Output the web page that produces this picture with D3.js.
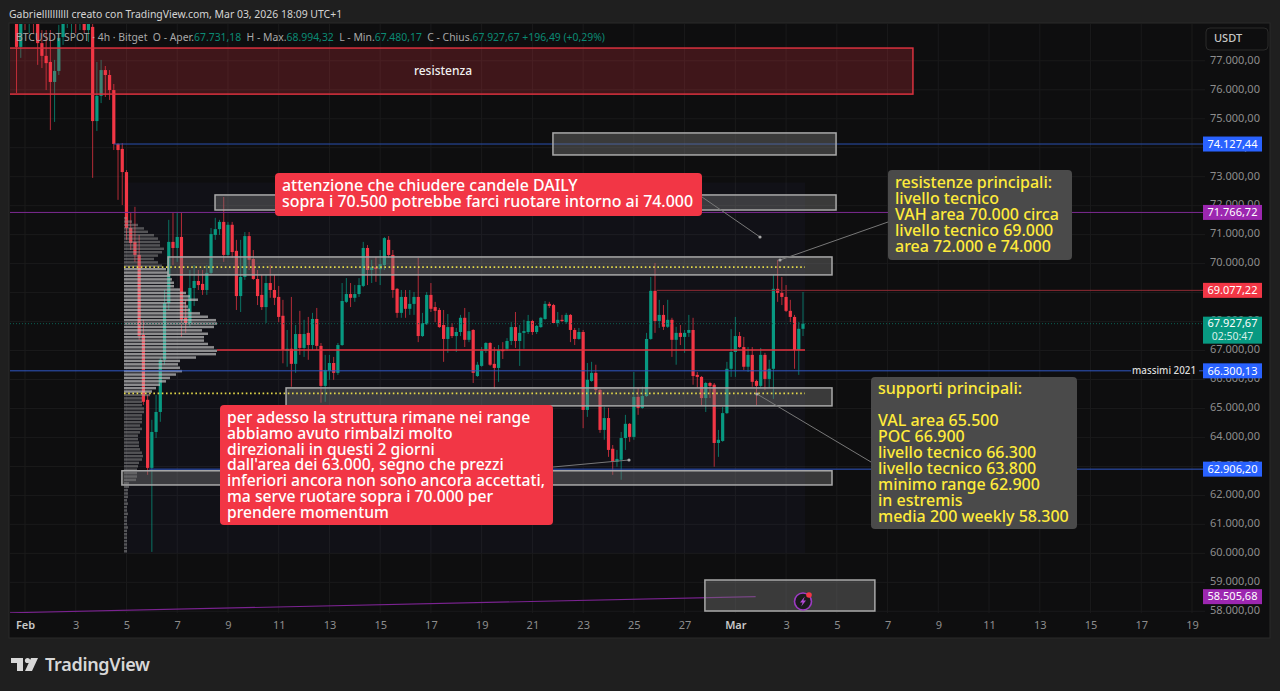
<!DOCTYPE html>
<html><head><meta charset="utf-8">
<script src="https://cdn.jsdelivr.net/npm/d3@7/dist/d3.min.js"></script>
<style>html,body{margin:0;padding:0;background:#1f1f1f;overflow:hidden}svg{display:block}text{font-family:"Noto Sans",sans-serif}</style>
</head><body><svg id="c" width="1280" height="691"></svg>
<script>
// ---------- data (USDT, 4h candles from 31 Jan 16:00) ----------
const opens=[78410,77480,78750,78480,78750,78410,77610,77170,76960,76270,
76650,77820,78480,78610,78750,78480,78580,78060,78170,74920,
75790,76680,76510,75990,74130,73960,73160,71230,70750,70300,
67540,65300,62950,64190,64880,66680,68640,70750,70540,70920,
68130,67950,69160,69400,69300,69090,69680,70990,71190,71440,
70300,71340,70440,68880,69540,70950,70160,69470,68920,68500,
69330,69090,68850,68200,66990,67060,66540,67570,67090,67610,
67190,68090,67160,65780,66300,66570,66230,67190,68680,68950,
68820,68950,69230,70540,69780,69880,69810,69950,70820,70300,
69130,68300,68850,68440,68610,68850,67500,67910,68920,68500,
68400,67880,67400,67810,67500,67640,68130,67370,67710,66120,
66470,66990,67260,66540,66400,67020,67060,67330,67810,67330,
67610,67640,68020,67640,67810,68090,68610,68570,67950,68060,
67980,68230,67710,67400,67640,64950,65950,66230,65640,64260,
64670,63610,63160,63230,63980,64470,64020,65400,65020,65430,
67400,69060,68020,68230,67820,68060,67370,67610,67470,67610,
67710,66160,66090,65360,65880,65820,63810,63880,64840,66370,
66950,67500,67120,66440,66850,65950,65780,66850,66020,66370,
69130,68990,68850,68370,68160,67020,67750];
const highs=[78580,78480,78930,78930,78930,78750,78060,78060,78060,77030,
78240,78580,78820,78930,78930,78820,78750,78580,78270,76960,
77030,76820,76680,76200,74160,74160,73230,71750,71960,70990,
68060,65470,64610,65470,66750,69090,71510,71750,71750,71750,
68750,69780,69950,69780,69780,69950,71230,71580,71510,72300,
71440,71440,70820,70820,71090,71090,70470,69780,69610,69610,
69950,69610,69230,68750,67710,68850,67880,68370,68060,68160,
68300,68470,67260,66850,66850,66780,67260,69330,69500,69330,
69260,69500,70750,70640,70130,70230,70470,70920,70950,70470,
69160,69090,69090,69090,69020,70200,68300,69020,69330,68680,
68470,68400,68260,67950,67780,68230,68470,68330,67740,66610,
67120,67290,67290,67120,67190,67290,67430,67980,68330,67880,
68060,68230,68060,67880,68160,68710,68680,68610,68330,68230,
68300,68260,67780,67780,67710,66570,66610,66510,65680,65050,
65020,63740,63570,64190,64780,64500,66260,65710,65750,67610,
69540,70020,68750,68570,68750,68130,67820,67880,67710,68230,
68130,66260,66120,65920,65920,65880,64260,65050,66610,67740,
68160,67640,67470,67120,67120,65990,67090,66920,66680,69610,
70130,69540,69260,68750,68230,67980,69020];
const lows=[75890,77100,78060,77960,77930,76860,76750,75990,74610,74890,
76510,77550,78130,77960,77960,78060,77960,77650,72960,74580,
75540,75750,75650,73920,72200,72020,70820,70470,70060,67370,
65120,62710,60050,63980,64540,66510,68400,69950,70060,67470,
67610,67820,68540,69090,68920,68920,69610,70820,70990,70060,
70200,70200,68400,68330,69440,69780,69440,68570,68400,67950,
68820,68570,67980,66560,66440,65750,66230,66850,66780,66680,
67020,67020,65200,65230,65990,65990,66160,67160,68640,68500,
68680,68850,69190,69260,69330,69370,69260,69780,70200,68820,
68130,68130,68130,68230,68230,67290,67470,67880,68330,67980,
67780,66610,66920,67430,66950,67500,67120,67290,65880,66090,
66440,66920,66470,65680,65920,66710,66990,67190,67090,66470,
67060,67570,67540,67570,67780,68060,68470,67950,67820,67980,
67920,67290,67190,67370,64320,64710,65920,65540,64160,63920,
63330,62710,62990,62540,63570,63850,63920,64780,64990,65400,
67370,67610,67780,67710,67780,66780,66510,67190,66920,67470,
65820,65710,65120,64880,65360,62990,63330,63850,64810,66090,
66090,67090,66330,66260,65750,65120,65710,65640,65710,65330,
68680,68570,68330,67980,66370,66160,67500];
const closes=[77480,78340,78480,78750,78410,77610,77170,76920,76270,76650,
77790,78270,78680,78750,78480,78680,78060,78340,74920,75790,
76680,76510,75990,74130,73920,73160,71230,70710,70300,67510,
65230,62950,64190,64880,66680,68640,70750,70540,70920,68060,
67950,69160,69400,69260,69090,69680,71020,71190,71440,70300,
71340,70400,68880,69540,70950,70130,69470,68880,68500,69330,
69090,68820,68160,67020,67060,66540,67570,67090,67570,67190,
68090,67160,65780,66330,66570,66230,67190,68710,68950,68820,
68950,69260,70540,69780,69880,69810,69980,70880,70300,69090,
68300,68850,68440,68610,68850,67500,67950,68920,68440,68370,
67810,67400,67810,67500,67640,68130,67370,67670,66230,66510,
66990,67260,66510,66400,67020,66990,67330,67810,67330,67610,
67670,68020,67640,67850,68130,68610,68540,67950,68060,68020,
68230,67710,67400,67640,64950,65990,66230,65640,64260,64670,
63570,63160,63260,63980,64470,64020,65400,65020,65430,67400,
69060,68020,68230,67820,68060,67370,67610,67470,67610,67710,
66120,66090,65360,65880,65780,63810,63920,64840,66370,66950,
67500,67120,66440,66850,65920,65780,66850,66020,66370,69130,
68990,68850,68370,68160,67020,67750,67930];

const priceTicks=[77000,76000,75000,74000,73000,72000,71000,70000,69000,68000,67000,66000,65000,64000,63000,62000,61000,60000,59000,58000];
const timeTickDays=[0,2,4,6,8,10,12,14,16,18,20,22,24,26,28,30,32,34,36,38,40,42,44,46];
const timeTickLabels=["Feb","3","5","7","9","11","13","15","17","19","21","23","25","27","Mar","3","5","7","9","11","13","15","17","19"];

// visible-range volume profile, top row to bottom row
const profileTopPrice=71610, profileStep=117.3;
const profileVolumes=[3,8,14,20,24,30,34,36,36,40,38,34,30,34,38,42,44,46,48,50,50,56,62,66,74,62,64,66,76,84,92,93,90,78,84,80,80,84,90,93,92,72,56,54,56,58,52,46,42,36,32,28,26,18,18,18,20,20,18,18,18,16,18,16,14,14,15,15,16,18,19,18,15,14,13,13,13,12,5,5,4,4,4,3,4,3,3,4,3,3,3,4,3,3,3,3,3,3,3];
const vahPrice=69880, valPrice=65520, pocPrice=67020;

const levelPrices={blueHigh:74127.44,purple:71766.72,red:69077.22,last:67927.67,massimi:66300.13,blueLow:62906.20,purpleLow:58505.68};
const greyZonePrices=[[74510,73750],[72370,71850],[70230,69610],[65710,65090],[62850,62360],[59080,58010]];
const greyZoneDays=[[20.81,31.97],[7.49,31.97],[5.64,31.81],[10.29,31.81],[3.82,31.81],[26.80,33.50]];
const redZonePrices=[77440,75850], redZoneDays=[-0.7,35.0];

const redNote1=["attenzione che chiudere candele DAILY","sopra i 70.500 potrebbe farci ruotare intorno ai 74.000"];
const redNote2=["per adesso la struttura rimane nei range","abbiamo avuto rimbalzi molto","direzionali in questi 2 giorni","dall'area dei 63.000, segno che prezzi","inferiori ancora non sono ancora accettati,","ma serve ruotare sopra i 70.000 per","prendere momentum"];
const greyNote1=["resistenze principali:","livello tecnico","VAH area 70.000 circa","livello tecnico 69.000","area 72.000 e 74.000"];
const greyNote2=["supporti principali:","","VAL area 65.500","POC 66.900","livello tecnico 66.300","livello tecnico 63.800","minimo range 62.900","in estremis","media 200 weekly 58.300"];

// ---------- scales ----------
const DAY=864e5, t0=Date.UTC(2026,1,1);
const dayDate=d=>new Date(t0+d*DAY);
const pane={l:10,r:1205,t:24,b:613};
const x=d3.scaleUtc().domain([dayDate(0),dayDate(46)]).range([25,1192]);
const y=d3.scaleLinear().domain([58000,77000]).range([611.3,60.8]);
const volX=d3.scaleLinear().domain([0,93]).range([124,217]);
const loc=d3.formatLocale({decimal:",",thousands:".",grouping:[3],currency:["",""]});
const fmt=loc.format(",.2f");
const UP="#089981",DOWN="#f23645";
const svg=d3.select("#c");
const defs=svg.append("defs");
defs.append("clipPath").attr("id","pc").append("rect").attr("x",pane.l).attr("y",pane.t).attr("width",pane.r-pane.l).attr("height",pane.b-pane.t);

// frame
svg.append("rect").attr("width",1280).attr("height",691).attr("fill","#1f1f1f");
svg.append("rect").attr("x",9).attr("y",23).attr("width",1261).attr("height",615).attr("fill","#0e0e0f").attr("stroke","#2a2a2a");
svg.append("text").attr("x",9).attr("y",18).attr("font-size",10.45).attr("fill","#d4d4d4").text("Gabriellllllllll creato con TradingView.com, Mar 03, 2026 18:09 UTC+1");

// axes + grid
const gGrid=svg.append("g").attr("clip-path","url(#pc)");
gGrid.selectAll(".h").data(priceTicks).join("line").attr("x1",pane.l).attr("x2",pane.r).attr("y1",d=>y(d)).attr("y2",d=>y(d)).attr("stroke","#1a1a1b");
gGrid.selectAll(".v").data(timeTickDays).join("line").attr("y1",pane.t).attr("y2",pane.b).attr("x1",d=>x(dayDate(d))).attr("x2",d=>x(dayDate(d))).attr("stroke","#1a1a1b");

const yAxis=d3.axisRight(y).tickValues(priceTicks).tickSize(0).tickFormat(d=>fmt(d));
const gy=svg.append("g").attr("transform","translate(1210,-1.2)").call(yAxis);
gy.select(".domain").remove();
gy.selectAll("text").attr("x",0).attr("text-anchor","start").attr("font-size",11).attr("fill","#8d8d8d").attr("font-family",'"Noto Sans",sans-serif');

const xAxis=d3.axisBottom(x).tickValues(timeTickDays.map(dayDate)).tickSize(0).tickFormat((d,i)=>timeTickLabels[i]);
const gx=svg.append("g").attr("transform","translate(0,618)").call(xAxis);
gx.select(".domain").remove();
gx.selectAll("text").attr("font-size",11).attr("font-family",'"Noto Sans",sans-serif').attr("fill",(d,i)=>(timeTickLabels[i]==="Feb"||timeTickLabels[i]==="Mar")?"#c8c8c8":"#8d8d8d").attr("font-weight",(d,i)=>(timeTickLabels[i]==="Feb"||timeTickLabels[i]==="Mar")?600:400);

const plot=svg.append("g").attr("clip-path","url(#pc)");
// profile backdrop range
plot.append("rect").attr("x",volX(0)).attr("width",805-volX(0)).attr("y",y(72800)).attr("height",y(60000)-y(72800)).attr("fill","#7a6cff").attr("opacity",0.035);

// candles
const idx=d3.range(opens.length);
const tx=i=>x(new Date(t0+(i-2)*4*36e5));
const cg=plot.append("g");
cg.selectAll(".w").data(idx).join("line").attr("x1",tx).attr("x2",tx).attr("y1",i=>y(highs[i])).attr("y2",i=>y(lows[i])).attr("stroke",i=>closes[i]>=opens[i]?UP:DOWN).attr("opacity",.72);
cg.selectAll(".b").data(idx).join("rect").attr("x",i=>tx(i)-1.6).attr("width",3.2).attr("y",i=>Math.min(y(opens[i]),y(closes[i]))).attr("height",i=>Math.max(1.2,Math.abs(y(opens[i])-y(closes[i])))).attr("fill",i=>closes[i]>=opens[i]?UP:DOWN);

// volume profile
const pRow=(d,i)=>profileTopPrice-i*profileStep;
plot.append("g").selectAll("rect").data(profileVolumes).join("rect").attr("x",volX(0)).attr("width",d=>volX(d)-volX(0)).attr("y",(d,i)=>y(pRow(d,i))).attr("height",y(0)-y(85)).attr("fill",(d,i)=>{const p=pRow(d,i);return p<=vahPrice&&p>=valPrice?"rgba(190,190,190,.72)":"rgba(150,150,150,.5)"});

// levels
const hl=(p,d0,d1,c,w,o)=>plot.append("line").attr("x1",x(dayDate(d0))).attr("x2",d1===null?pane.r:x(dayDate(d1))).attr("y1",y(p)).attr("y2",y(p)).attr("stroke",c).attr("stroke-width",w||1).attr("opacity",o||1);
hl(levelPrices.blueHigh,3.5,null,"#2a4fb0");
hl(levelPrices.purple,-1,null,"#7d2a92");
hl(levelPrices.red,24.9,null,"#8e2a33");
hl(levelPrices.massimi,-1,43.6,"#2f56c4");
plot.append("line").attr("x1",1199).attr("x2",pane.r).attr("y1",y(levelPrices.massimi)).attr("y2",y(levelPrices.massimi)).attr("stroke","#2f56c4");
hl(levelPrices.blueLow,4.9,null,"#2f56c4");
plot.append("line").attr("x1",pane.l).attr("x2",pane.r).attr("y1",y(levelPrices.last)).attr("y2",y(levelPrices.last)).attr("stroke","#0b5f52").attr("stroke-dasharray","1 2");
plot.append("line").attr("x1",x(dayDate(-0.59))).attr("x2",x(dayDate(28.8))).attr("y1",y(57950)).attr("y2",y(levelPrices.purpleLow)).attr("stroke","#7a2390").attr("stroke-width",1.2);

// zones
plot.selectAll(".z").data(greyZonePrices).join("rect").attr("x",(d,i)=>x(dayDate(greyZoneDays[i][0]))).attr("width",(d,i)=>x(dayDate(greyZoneDays[i][1]))-x(dayDate(greyZoneDays[i][0]))).attr("y",d=>y(d[0])).attr("height",d=>y(d[1])-y(d[0])).attr("fill","rgba(120,120,120,.42)").attr("stroke","#a9a9a9").attr("stroke-width",1.5);
plot.append("rect").attr("x",x(dayDate(redZoneDays[0]))).attr("width",x(dayDate(redZoneDays[1]))-x(dayDate(redZoneDays[0]))).attr("y",y(redZonePrices[0])).attr("height",y(redZonePrices[1])-y(redZonePrices[0])).attr("fill","rgba(242,54,69,.22)").attr("stroke","#d9313f").attr("stroke-width",1.5);
svg.append("text").attr("x",443).attr("y",75).attr("text-anchor","middle").attr("font-size",12).attr("font-weight",500).attr("fill","#f0f0f0").text("resistenza");

// lines over zones
plot.append("line").attr("x1",volX(93)).attr("x2",805).attr("y1",y(pocPrice)).attr("y2",y(pocPrice)).attr("stroke","#e5323f").attr("stroke-width",1.5);
[vahPrice,valPrice].forEach(p=>plot.append("line").attr("x1",124).attr("x2",805).attr("y1",y(p)).attr("y2",y(p)).attr("stroke","#e4d94a").attr("stroke-width",1.6).attr("stroke-dasharray","1.6 2.6"));

// connectors
const conn=[[702,197,760,237],[553,467,629,460],[888,222,780,260],[871,462,757,394]];
const cg2=svg.append("g");
cg2.selectAll("line").data(conn).join("line").attr("x1",d=>d[0]).attr("y1",d=>d[1]).attr("x2",d=>d[2]).attr("y2",d=>d[3]).attr("stroke","#787878");
cg2.selectAll("circle").data(conn).join("circle").attr("cx",d=>d[2]).attr("cy",d=>d[3]).attr("r",1.6).attr("fill","#a8a8a8");

// notes
function note(bx,by,bw,bh,fill,col,lines,tx0,ty0,lh,fs){
  const g=svg.append("g");
  g.append("rect").attr("x",bx).attr("y",by).attr("width",bw).attr("height",bh).attr("rx",4).attr("fill",fill);
  g.selectAll("text").data(lines).join("text").attr("x",tx0).attr("y",(d,i)=>ty0+i*lh).attr("font-size",fs).attr("font-weight",500).attr("fill",col).text(d=>d);
}
note(275,173,427,43,"#f23645","#fff",redNote1,282,191,16,15.95);
note(220,405,333,120,"#f23645","#fff",redNote2,227,423,15.8,15.7);
note(888,170,184,90,"#4a4a4a","#ffeb3b",greyNote1,895,188,16,16);
note(871,377,206,152,"#4a4a4a","#ffeb3b",greyNote2,878,394,16,16);

// legend
const lg=svg.append("text").attr("x",16).attr("y",41).attr("font-size",10.4).attr("fill","#a8a8a8");
[["BTCUSDT SPOT · 4h · Bitget  O - Aper.",0],["67.731,18",1],["  H - Max.",0],["68.994,32",1],["  L - Min.",0],["67.480,17",1],["  C - Chius.",0],["67.927,67 +196,49 (+0,29%)",1]].forEach(s=>lg.append("tspan").attr("xml:space","preserve").style("white-space","pre").attr("fill",s[1]?"#0b8a74":"#a8a8a8").text(s[0]));

// USDT button
svg.append("rect").attr("x",1206).attr("y",28).attr("width",62).attr("height",22).attr("rx",4).attr("fill","#0e0e0f").attr("stroke","#2a2a2a");
svg.append("text").attr("x",1214).attr("y",42).attr("font-size",11).attr("font-weight",500).attr("fill","#c8c8c8").text("USDT");

// price tags
const tags=[[levelPrices.blueHigh,"#2962ff"],[levelPrices.purple,"#9c27b0"],[levelPrices.red,"#f23645"],[levelPrices.massimi,"#2962ff"],[levelPrices.blueLow,"#2962ff"],[levelPrices.purpleLow,"#9c27b0"]];
const tg=svg.append("g");
tg.selectAll("rect").data(tags).join("rect").attr("x",1203).attr("width",59).attr("y",d=>y(d[0])-7.5).attr("height",15).attr("fill",d=>d[1]);
tg.selectAll("text").data(tags).join("text").attr("x",1232.5).attr("y",d=>y(d[0])+3.8).attr("text-anchor","middle").attr("font-size",11).attr("fill","#fff").text(d=>fmt(d[0]));
const ly=y(levelPrices.last);
svg.append("rect").attr("x",1203).attr("y",ly-7).attr("width",59).attr("height",27).attr("fill","#089981");
svg.append("text").attr("x",1232.5).attr("y",ly+3.8).attr("text-anchor","middle").attr("font-size",11).attr("fill","#fff").text(fmt(levelPrices.last));
svg.append("text").attr("x",1232.5).attr("y",ly+16.3).attr("text-anchor","middle").attr("font-size",10.5).attr("fill","#d7efe9").text("02:50:47");
svg.append("text").attr("x",1196).attr("y",374).attr("text-anchor","end").attr("font-size",9.8).attr("font-weight",500).attr("fill","#dcdcdc").text("massimi 2021");

// flash icon
const ic=svg.append("g").attr("transform","translate(803,601.5)");
ic.append("circle").attr("r",8.5).attr("fill","#1a1a1c").attr("stroke","#9c3bc2").attr("stroke-width",1.6);
ic.append("path").attr("d","M1.8 -5 L-3 1 L-0.4 1 L-1.8 5 L3 -1 L0.4 -1Z").attr("fill","#b44ad8");
ic.append("circle").attr("cx",6).attr("cy",-6.5).attr("r",2.8).attr("fill","#f23645");

// logo
const logo=svg.append("g").attr("fill","#d8d8d8");
logo.append("path").attr("d","M11 658H23V671H17V663H11Z");
logo.append("circle").attr("cx",27.5).attr("cy",660.5).attr("r",2.6);
logo.append("path").attr("d","M31 658H38L32 671H25Z");
svg.append("text").attr("x",45).attr("y",671).attr("font-size",18).attr("font-weight",600).attr("font-family","Inter,sans-serif").attr("fill","#d8d8d8").attr("letter-spacing",-0.3).text("TradingView");
</script></body></html>
